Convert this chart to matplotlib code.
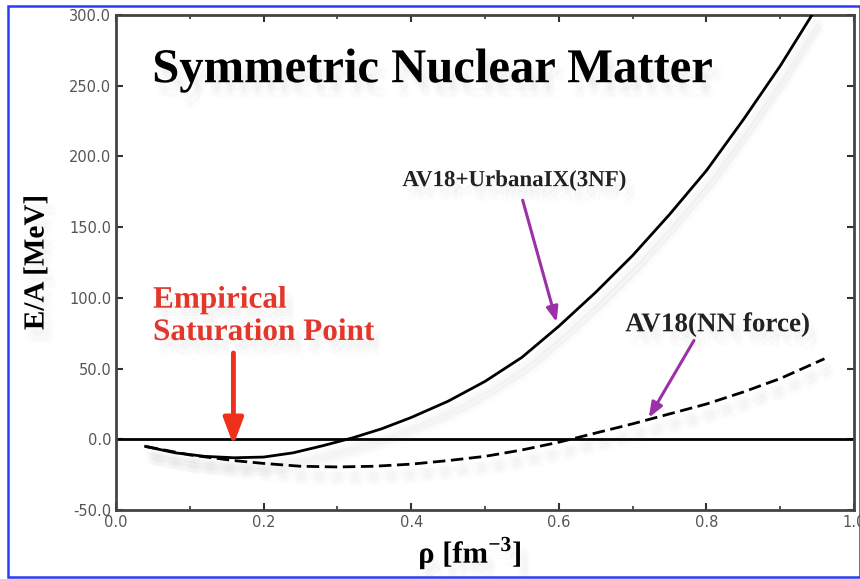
import matplotlib
matplotlib.use("Agg")
from matplotlib import pyplot as plt
from matplotlib.patches import Rectangle
from matplotlib.ticker import MultipleLocator, FormatStrFormatter
import matplotlib.patheffects as pe

#? Data
rho_3nf = [0.04, 0.08, 0.12, 0.16, 0.20, 0.24, 0.28, 0.32, 0.36, 0.40, 0.45,
           0.50, 0.55, 0.60, 0.65, 0.70, 0.75, 0.80, 0.85, 0.90, 0.943]
ea_3nf = [-5.0, -9.5, -12.0, -13.0, -12.5, -9.5, -4.5, 1.0, 7.5, 15.5, 27.0,
          41.0, 58.0, 80.0, 104.0, 130.0, 159.0, 190.0, 226.0, 264.0, 300.0]

rho_nn = [0.04, 0.10, 0.16, 0.20, 0.25, 0.30, 0.35, 0.40, 0.45, 0.50, 0.55,
          0.60, 0.65, 0.70, 0.75, 0.80, 0.85, 0.90, 0.96]
ea_nn = [-5.0, -11.0, -15.0, -17.0, -19.0, -19.5, -19.0, -17.5, -15.0, -12.0, -7.5,
         -2.0, 4.5, 11.0, 18.0, 25.0, 33.5, 43.0, 57.0]

sat_point = (0.159, -6.0)
label_3nf = "AV18+UrbanaIX(3NF)"
label_nn = "AV18(NN force)"

plt.rcParams["mathtext.fontset"] = "custom"
plt.rcParams["mathtext.rm"] = "Liberation Serif:bold"
plt.rcParams["mathtext.bf"] = "Liberation Serif:bold"

#? Figure
fig = plt.figure(figsize=(8.6, 5.79), dpi=100)
ax = fig.add_axes([0.135, 0.119, 0.858, 0.855])

#* vage schaduw: een paar verschoven kopieën met weinig alpha
offsets = [(2, -6), (5, -8), (3, -10), (7, -6), (4, -4), (6, -11)]
shadow = [pe.SimplePatchShadow(offset=o, shadow_rgbFace="0.5", alpha=0.025) for o in offsets] + [pe.Normal()]
line_shadow = [pe.SimpleLineShadow(offset=o, shadow_color="0.5", alpha=0.02, linewidth=5) for o in offsets] + [pe.Normal()]

ax.axhline(0.0, color="black", lw=2.0, zorder=2)
ax.plot(rho_3nf, ea_3nf, color="black", lw=2.0, path_effects=line_shadow, zorder=3)
ax.plot(rho_nn, ea_nn, color="black", lw=2.0, ls=(0, (4.5, 2.0)), path_effects=line_shadow, zorder=3)

#? Assen
ax.set_xlim(0.0, 1.0)
ax.set_ylim(-50.0, 300.0)
ax.xaxis.set_major_locator(MultipleLocator(0.2))
ax.xaxis.set_minor_locator(MultipleLocator(0.1))
ax.yaxis.set_major_locator(MultipleLocator(50))
ax.xaxis.set_major_formatter(FormatStrFormatter("%.1f"))
ax.yaxis.set_major_formatter(FormatStrFormatter("%.1f"))
ax.tick_params(which="both", direction="in", top=True, right=True, colors="#333333",
               labelcolor="#555555", labelsize=10.5)
ax.tick_params(which="major", length=5, width=1.5)
ax.tick_params(which="minor", length=3, width=1.2)
for s in ax.spines.values():
    s.set_color("#444444")
    s.set_linewidth(2.0)

serif = ["Liberation Serif", "DejaVu Serif"]
ax.set_ylabel("E/A [MeV]", fontsize=21, fontweight="bold", family=serif, labelpad=14,
              path_effects=shadow)
fig.text(470 / 860, 1 - 553 / 579, r"ρ [fm$^{-3}$]", fontsize=22, fontweight="bold",
         family=serif, ha="center", va="center", path_effects=shadow)

#? Teksten
ax.text(0.049, 261, "Symmetric Nuclear Matter", fontsize=35, fontweight="bold",
        family=serif, va="center", ha="left", path_effects=shadow)
ax.text(0.050, 87, "Empirical\nSaturation Point", fontsize=22.5, fontweight="bold",
        family=serif, color="#e2372a", va="center", ha="left", linespacing=1.15,
        path_effects=shadow)
ax.text(0.388, 183, label_3nf, fontsize=16.5, fontweight="bold", family=serif,
        color="#222222", va="center", ha="left", path_effects=shadow)
ax.text(0.690, 81, label_nn, fontsize=19.5, fontweight="bold", family=serif,
        color="#222222", va="center", ha="left", path_effects=shadow)

#? Pijlen
ax.annotate("", xy=sat_point, xytext=(sat_point[0], 63),
            arrowprops=dict(arrowstyle="-|>,head_length=1.6,head_width=0.6", color="#f0301c", lw=3.5))
ax.annotate("", xy=(0.598, 81), xytext=(0.55, 171),
            arrowprops=dict(arrowstyle="-|>,head_length=0.9,head_width=0.35", color="#9b30a8", lw=2.2))
ax.annotate("", xy=(0.72, 13.6), xytext=(0.785, 71.6),
            arrowprops=dict(arrowstyle="-|>,head_length=0.9,head_width=0.35", color="#9b30a8", lw=2.2))

#? Blauwe rand
fig.patches.append(Rectangle((0.0095, 0.003), 0.99, 0.987, transform=fig.transFigure,
                             fill=False, edgecolor="#2a3cf0", lw=1.8))

fig.savefig("out.png", dpi=100)
